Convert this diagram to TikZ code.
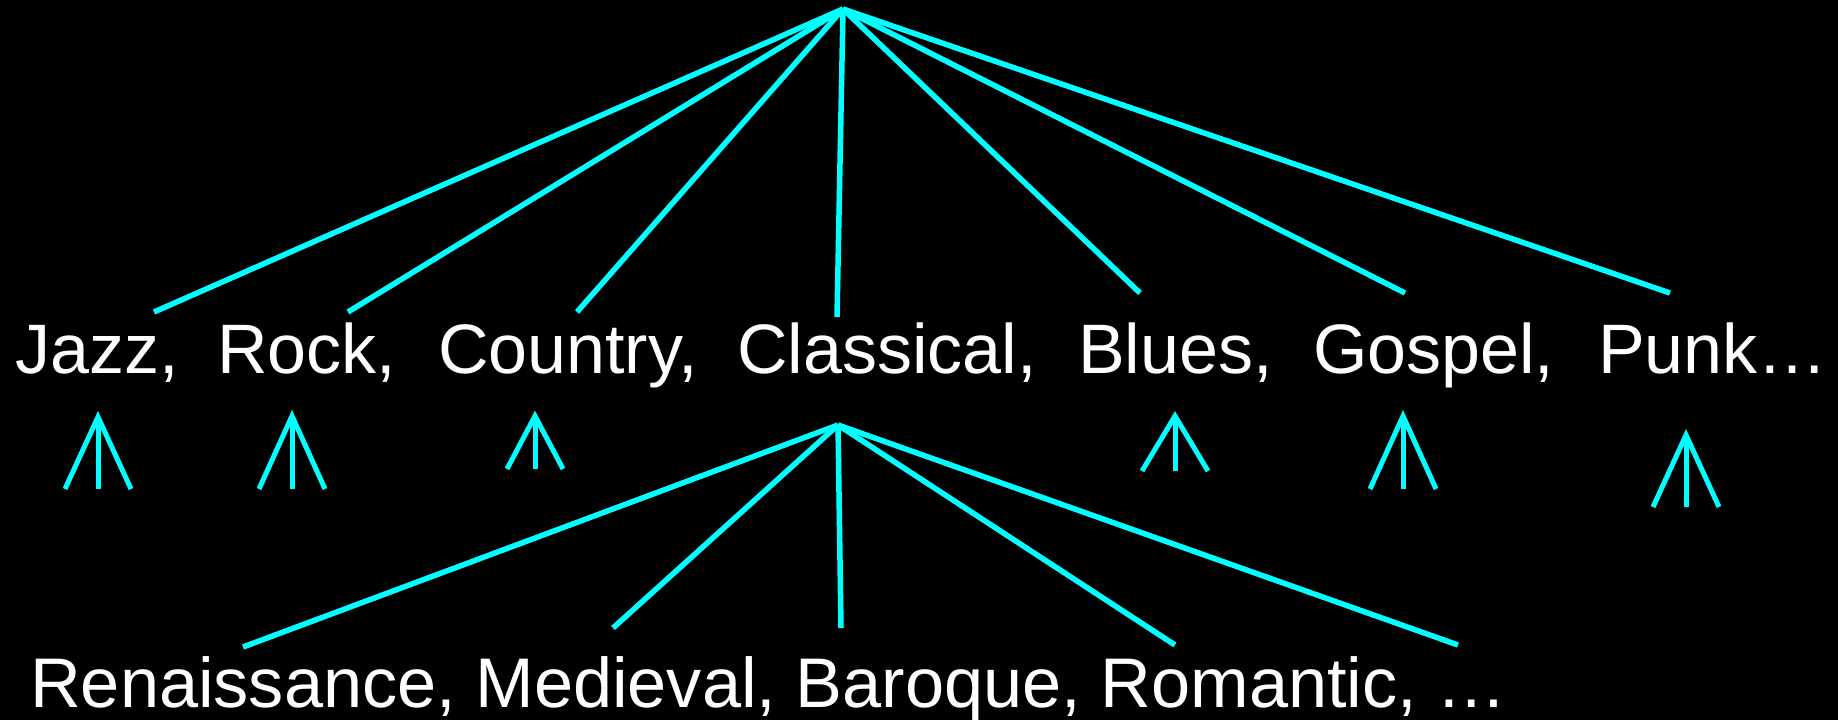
\documentclass[tikz,border=0pt]{standalone}
\usepackage{fontspec}
\setmainfont{Liberation Sans}
\definecolor{aqua}{RGB}{0,255,255}
\begin{document}
\begin{tikzpicture}[x=1pt,y=-1pt,
  conn/.style={draw=aqua, line width=5.5pt},
  tri/.style={draw=aqua, line width=5pt},
  genre/.style={anchor=base west, inner sep=0pt, text=white, font=\fontsize{70}{84}\selectfont}]
\fill[black] (0,0) rectangle (1838,720);
\useasboundingbox (0,0) rectangle (1838,720);
% top row genres
\node[genre] (jazz) at (15,373) {Jazz,};
\node[genre] (rock) at (217,373) {Rock,};
\node[genre] (country) at (438,373) {Country,};
\node[genre] (classical) at (737,373) {Classical,};
\node[genre] (blues) at (1078,373) {Blues,};
\node[genre] (gospel) at (1313,373) {Gospel,};
\node[genre] (punk) at (1598,373) {Punk…};
\node[genre, font=\fontsize{70.3}{84}\selectfont] (sub) at (30,707) {Renaissance, Medieval, Baroque, Romantic, …};
% top tree
\coordinate (top) at (843,9);
\coordinate (ejazz) at (154,312);
\coordinate (erock) at (348,312);
\coordinate (ecountry) at (577,312);
\coordinate (eclassical) at (837,317);
\coordinate (eblues) at (1140,293);
\coordinate (egospel) at (1405,293);
\coordinate (epunk) at (1670,293);
\foreach \e in {ejazz,erock,ecountry,eclassical,eblues,egospel,epunk}
  \draw[conn] (top) -- (\e);
% bottom tree
\coordinate (bot) at (838,425);
\coordinate (eren) at (243,647);
\coordinate (emed) at (613,628);
\coordinate (ebar) at (841,628);
\coordinate (erom) at (1175,645);
\coordinate (emore) at (1458,645);
\foreach \e in {eren,emed,ebar,erom,emore}
  \draw[conn] (bot) -- (\e);
% tripods
\foreach \n/\px/\py/\b/\w in {1/98/417/489/33, 2/292/416/489/33, 3/535/416/469/28,
    4/1175/416/471/33, 5/1403/416/489/33, 6/1686/435/507/33} {
  \coordinate (ta\n) at (\px,\py);
  \coordinate (tl\n) at (\px-\w,\b);
  \coordinate (tm\n) at (\px,\b);
  \coordinate (tr\n) at (\px+\w,\b);
  \draw[tri] (tl\n) -- (ta\n) -- (tr\n);
  \draw[tri] (ta\n) -- (tm\n);
}
\end{tikzpicture}
\end{document}
